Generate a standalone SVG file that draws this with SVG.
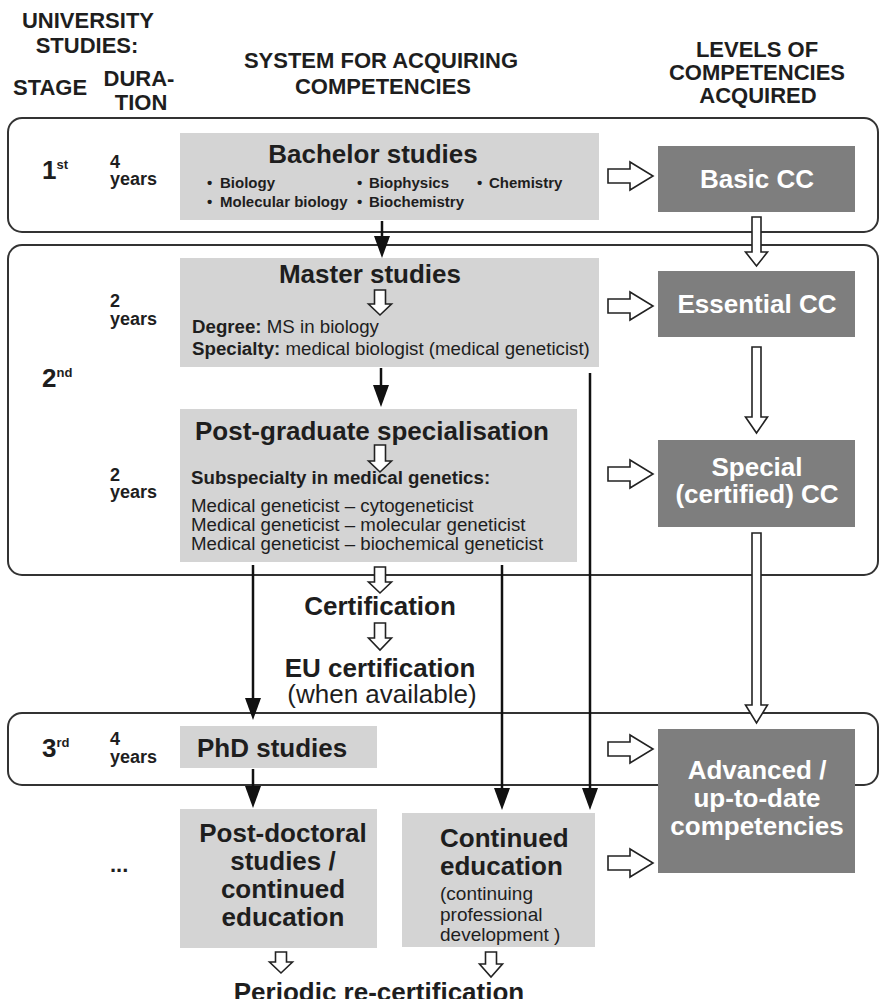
<svg xmlns="http://www.w3.org/2000/svg" width="881" height="999" viewBox="0 0 881 999">
<style>
text{font-family:"Liberation Sans",Arial,sans-serif;fill:#1e1e1e}
.b{font-weight:bold}
.hd{font-weight:bold;font-size:22px}
.t26{font-weight:bold;font-size:26px}
.w{fill:#fff;font-weight:bold;font-size:26px}
.r19{font-size:18.7px}
.yr{font-weight:bold;font-size:18px}
.bl{font-weight:bold;font-size:15px}
.stage{fill:none;stroke:#333;stroke-width:2}
.lbox{fill:#d4d4d4}
.dbox{fill:#7e7e7e}
.oa{fill:#fff;stroke:#222;stroke-width:1.6;stroke-linejoin:miter}
.ln{stroke:#111;stroke-width:2.5;fill:none;marker-end:url(#ah)}
</style>
<defs>
<marker id="ah" markerUnits="userSpaceOnUse" markerWidth="22" markerHeight="16" viewBox="0 0 22 16" refX="12" refY="8" orient="auto">
<path d="M0,0 L22,8 L0,16 Z" fill="#111"/>
</marker>
</defs>

<g id="header">
<text class="hd" x="88" y="28" text-anchor="middle">UNIVERSITY</text>
<text class="hd" x="87" y="53" text-anchor="middle">STUDIES:</text>
<text class="hd" x="13" y="95">STAGE</text>
<text class="hd" x="139" y="86" text-anchor="middle">DURA-</text>
<text class="hd" x="141" y="110" text-anchor="middle">TION</text>
<text class="hd" x="381" y="68" text-anchor="middle">SYSTEM FOR ACQUIRING</text>
<text class="hd" x="383" y="94" text-anchor="middle">COMPETENCIES</text>
<text class="hd" x="757" y="57" text-anchor="middle">LEVELS OF</text>
<text class="hd" x="757" y="80" text-anchor="middle">COMPETENCIES</text>
<text class="hd" x="758" y="103" text-anchor="middle">ACQUIRED</text>
</g>

<g id="stages">
<rect id="stage1" class="stage" x="8" y="118" width="870" height="114" rx="14"/>
<rect id="stage2" class="stage" x="8" y="245" width="870" height="330" rx="14"/>
<rect id="stage3" class="stage" x="8" y="713" width="870" height="72" rx="14"/>
</g>

<g id="stage-labels">
<text class="t26" x="42" y="179">1<tspan font-size="13" dy="-10">st</tspan></text>
<text class="t26" x="42" y="387">2<tspan font-size="13" dy="-10">nd</tspan></text>
<text class="t26" x="42" y="757">3<tspan font-size="13" dy="-10">rd</tspan></text>
<text class="yr" x="110" y="168">4</text>
<text class="yr" x="110" y="185">years</text>
<text class="yr" x="110" y="307">2</text>
<text class="yr" x="110" y="325">years</text>
<text class="yr" x="110" y="481">2</text>
<text class="yr" x="110" y="498">years</text>
<text class="yr" x="110" y="745">4</text>
<text class="yr" x="110" y="763">years</text>
<text class="hd" x="110" y="872">...</text>
</g>

<g id="bachelor">
<rect class="lbox" x="180" y="133" width="419" height="87"/>
<text class="t26" x="373" y="163" text-anchor="middle">Bachelor studies</text>
<text class="bl" y="188"><tspan x="207">•</tspan><tspan x="220">Biology</tspan></text>
<text class="bl" y="188"><tspan x="357">•</tspan><tspan x="369">Biophysics</tspan></text>
<text class="bl" y="188"><tspan x="477">•</tspan><tspan x="489">Chemistry</tspan></text>
<text class="bl" y="207"><tspan x="207">•</tspan><tspan x="220">Molecular biology</tspan></text>
<text class="bl" y="207"><tspan x="357">•</tspan><tspan x="369">Biochemistry</tspan></text>
</g>

<g id="master">
<rect class="lbox" x="180" y="258" width="419" height="109"/>
<text class="t26" x="370" y="283" text-anchor="middle">Master studies</text>
<path class="oa" d="M374.5,290 H385.5 V304 H391.5 L380,315 L368.5,304 H374.5 Z"/>
<text class="r19" x="192" y="333"><tspan class="b">Degree:</tspan> MS in biology</text>
<text class="r19" x="192" y="355"><tspan class="b">Specialty:</tspan> medical biologist (medical geneticist)</text>
</g>

<g id="postgrad">
<rect class="lbox" x="180" y="409" width="397" height="153"/>
<text class="t26" x="372" y="440" text-anchor="middle">Post-graduate specialisation</text>
<path class="oa" d="M374.5,445 H385.5 V461 H391.5 L380,472 L368.5,461 H374.5 Z"/>
<text class="r19 b" x="191" y="484">Subspecialty in medical genetics:</text>
<text class="r19" x="191" y="512">Medical geneticist – cytogeneticist</text>
<text class="r19" x="191" y="531">Medical geneticist – molecular geneticist</text>
<text class="r19" x="191" y="550">Medical geneticist – biochemical geneticist</text>
</g>

<g id="certification">
<text class="t26" x="380" y="615" text-anchor="middle">Certification</text>
<text class="t26" x="380" y="677" text-anchor="middle">EU certification</text>
<text x="382" y="703" text-anchor="middle" font-size="26">(when available)</text>
</g>

<g id="phd">
<rect class="lbox" x="180" y="726" width="197" height="42"/>
<text class="t26" x="197" y="757">PhD studies</text>
</g>

<g id="postdoc">
<rect class="lbox" x="180" y="809" width="197" height="139"/>
<text class="t26" x="283" y="842" text-anchor="middle">Post-doctoral</text>
<text class="t26" x="283" y="870" text-anchor="middle">studies /</text>
<text class="t26" x="283" y="898" text-anchor="middle">continued</text>
<text class="t26" x="283" y="926" text-anchor="middle">education</text>
</g>

<g id="continued">
<rect class="lbox" x="402" y="813" width="193" height="134"/>
<text class="t26" x="440" y="847">Continued</text>
<text class="t26" x="440" y="875">education</text>
<text x="440" y="900" font-size="19">(continuing</text>
<text x="440" y="921" font-size="19">professional</text>
<text x="440" y="941" font-size="19">development )</text>
</g>

<g id="recert">
<text class="t26" x="379" y="1001" text-anchor="middle">Periodic re-certification</text>
</g>

<g id="basic">
<rect class="dbox" x="658" y="146" width="197" height="66"/>
<text class="w" x="757" y="188" text-anchor="middle">Basic CC</text>
</g>
<g id="essential">
<rect class="dbox" x="658" y="271" width="197" height="66"/>
<text class="w" x="757" y="313" text-anchor="middle">Essential CC</text>
</g>
<g id="special">
<rect class="dbox" x="658" y="440" width="197" height="87"/>
<text class="w" x="757" y="476" text-anchor="middle">Special</text>
<text class="w" x="757" y="503" text-anchor="middle">(certified) CC</text>
</g>
<g id="advanced">
<rect class="dbox" x="658" y="729" width="197" height="144"/>
<text class="w" x="757" y="779" text-anchor="middle">Advanced /</text>
<text class="w" x="757" y="807" text-anchor="middle">up-to-date</text>
<text class="w" x="757" y="835" text-anchor="middle">competencies</text>
</g>

<g id="connectors">
<line class="ln" x1="382" y1="221" x2="382" y2="248"/>
<line class="ln" x1="381" y1="368" x2="381" y2="397"/>
<line class="ln" x1="253" y1="565" x2="253" y2="710"/>
<line class="ln" x1="502" y1="565" x2="502" y2="800"/>
<line class="ln" x1="590" y1="373" x2="590" y2="800"/>
<line class="ln" x1="253" y1="769" x2="253" y2="798"/>
<path class="oa" d="M374.5,567 H385.5 V582 H391.5 L380,593 L368.5,582 H374.5 Z"/>
<path class="oa" d="M374.5,623 H385.5 V638 H391.5 L380,650 L368.5,638 H374.5 Z"/>
<path class="oa" d="M275.5,952 H286.5 V962 H292.5 L281,973 L269.5,962 H275.5 Z"/>
<path class="oa" d="M485.5,952 H496.5 V964 H502.5 L491,977 L479.5,964 H485.5 Z"/>
<path class="oa" d="M608,169 H630 V162 L653,176 L630,190 V183 H608 Z"/>
<path class="oa" d="M608,299 H630 V292 L653,306 L630,320 V313 H608 Z"/>
<path class="oa" d="M608,467 H630 V460 L653,474 L630,488 V481 H608 Z"/>
<path class="oa" d="M608,742 H630 V735 L653,749 L630,763 V756 H608 Z"/>
<path class="oa" d="M608,856 H630 V849 L653,863 L630,877 V870 H608 Z"/>
<path class="oa" d="M752,217 H761 V252 H767.5 L756.5,266 L745.5,252 H752 Z"/>
<path class="oa" d="M752,347 H761 V417 H767.5 L756.5,433 L745.5,417 H752 Z"/>
<path class="oa" d="M752,533 H761 V705 H767.5 L756.5,723 L745.5,705 H752 Z"/>
</g>
</svg>
